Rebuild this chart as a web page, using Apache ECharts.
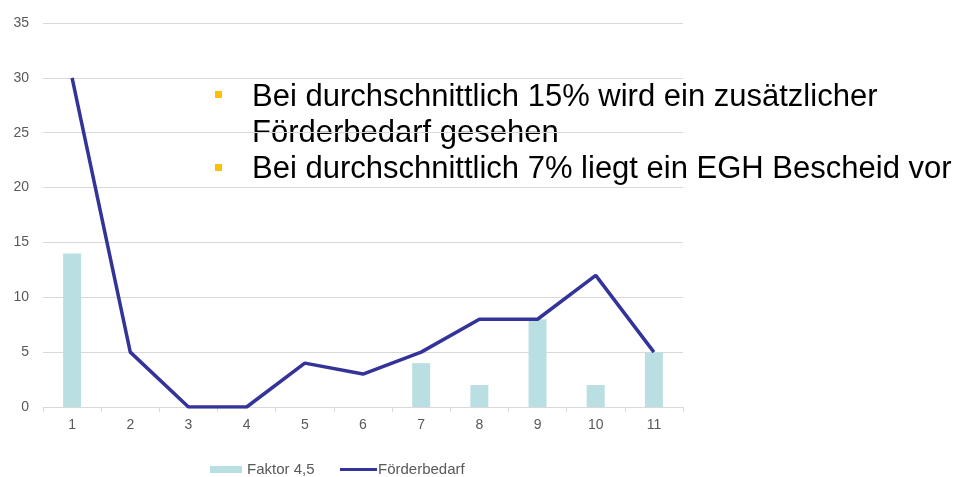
<!DOCTYPE html>
<html><head><meta charset="utf-8">
<script src="https://cdn.jsdelivr.net/npm/echarts@6/dist/echarts.min.js"></script>
<style>html,body{margin:0;padding:0;background:#fff}#c{width:955px;height:477px}</style>
</head><body><div id="c"></div>
<script>
const categories = ['1','2','3','4','5','6','7','8','9','10','11'];
const faktor = [14, 0, 0, 0, 0, 0, 4, 2, 8, 2, 5];
const foerderbedarf = [30, 5, 0, 0, 4, 3, 5, 8, 8, 12, 5];
const bullets = ['Bei durchschnittlich 15% wird ein zusätzlicher', 'Förderbedarf gesehen', 'Bei durchschnittlich 7% liegt ein EGH Bescheid vor'];

const chart = echarts.init(document.getElementById('c'));
const font = 'Arial, "Liberation Sans", sans-serif';
const bigFont = '31px ' + font;
chart.setOption({
  animation: false,
  textStyle: {fontFamily: font},
  grid: {left: 43, right: 272, top: 23, bottom: 70},
  legend: [
    {
      top: 457, left: 205, itemGap: 0,
      textStyle: {fontSize: 15, color: '#595959', fontFamily: font, padding: [0, 0, 0, 0]},
      data: [{name: 'Faktor 4,5', icon: 'rect'}],
      itemWidth: 32, itemHeight: 7
    },
    {
      top: 457, left: 335, itemGap: 0,
      textStyle: {fontSize: 15, color: '#595959', fontFamily: font, padding: [0, 0, 0, -4]},
      data: [{name: 'Förderbedarf', icon: 'rect'}],
      itemWidth: 37, itemHeight: 3
    }
  ],
  xAxis: {
    type: 'category', data: categories, boundaryGap: true,
    axisLine: {lineStyle: {color: '#d9d9d9'}},
    axisTick: {show: true, length: 5, lineStyle: {color: '#d9d9d9'}},
    axisLabel: {color: '#595959', fontSize: 14, margin: 11, fontFamily: font}
  },
  yAxis: {
    type: 'value', min: 0, max: 35, interval: 5,
    axisLine: {show: false}, axisTick: {show: false},
    splitLine: {lineStyle: {color: '#d9d9d9'}},
    axisLabel: {color: '#595959', fontSize: 14, margin: 14, fontFamily: font}
  },
  series: [
    {name: 'Faktor 4,5', type: 'bar', data: faktor, barWidth: 18, itemStyle: {color: '#BADFE3'}},
    {name: 'Förderbedarf', type: 'line', data: foerderbedarf, symbol: 'none',
     lineStyle: {color: '#333399', width: 3.5}, itemStyle: {color: '#333399'}}
  ],
  graphic: [
    {type: 'rect', x: 215, y: 91, shape: {width: 7, height: 7}, style: {fill: '#FFC000'}},
    {type: 'rect', x: 215, y: 164, shape: {width: 7, height: 7}, style: {fill: '#FFC000'}},
    {type: 'text', x: 252, y: 97, style: {text: bullets[0], font: bigFont, fill: '#000', verticalAlign: 'middle'}},
    {type: 'text', x: 252, y: 133.5, style: {text: bullets[1], font: bigFont, fill: '#000', verticalAlign: 'middle'}},
    {type: 'text', x: 252, y: 169, style: {text: bullets[2], font: bigFont, fill: '#000', verticalAlign: 'middle'}}
  ]
});
</script></body></html>
